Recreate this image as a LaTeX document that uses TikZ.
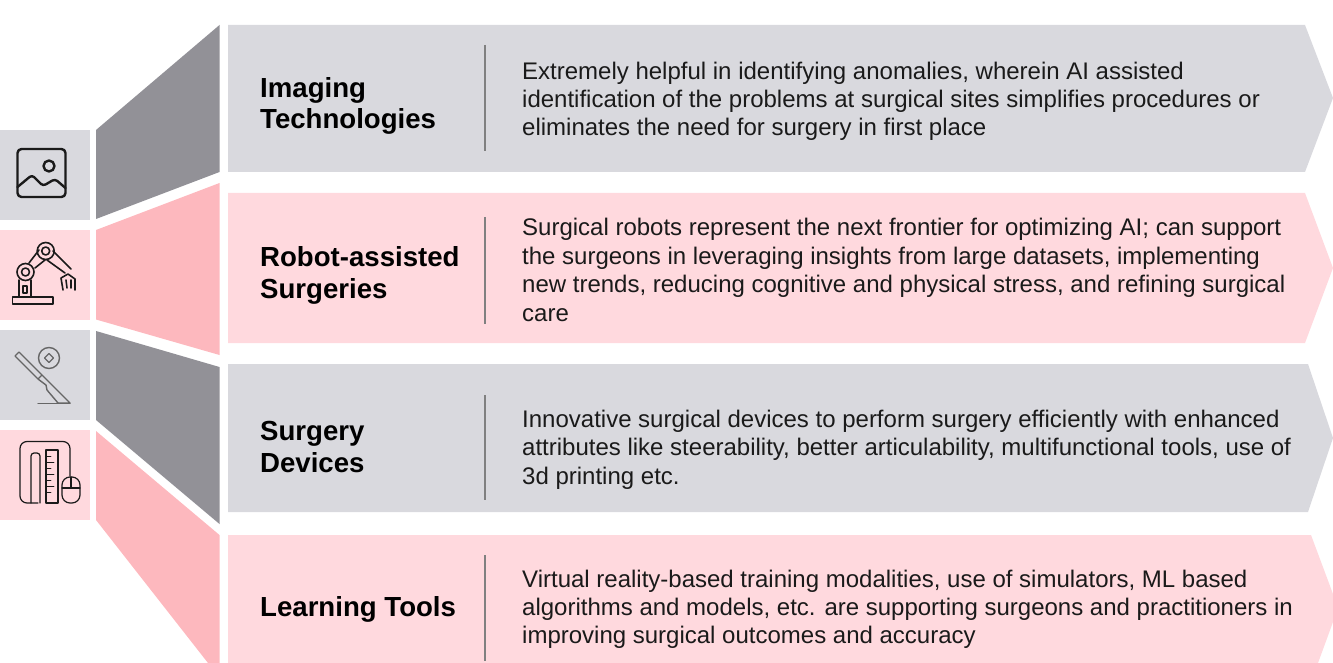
\documentclass[tikz,border=0pt]{standalone}
\usepackage{fontspec}
\setmainfont{Liberation Sans}
\definecolor{panelgray}{HTML}{D9D9DE}
\definecolor{panelpink}{HTML}{FFD9DE}
\definecolor{wedgegray}{HTML}{929197}
\definecolor{wedgepink}{HTML}{FDB8BE}
\definecolor{inktext}{HTML}{1A1A1A}
\tikzset{
  title/.style={anchor=west,inner sep=0pt,align=left,text=black,font=\fontsize{27.6}{31.8}\selectfont\bfseries},
  body/.style={anchor=west,inner sep=0pt,align=left,text=inktext,font=\fontsize{24}{28.4}\selectfont},
  bar/.style={draw=black!50,line width=1.5pt},
  icon/.style={draw=inktext,line width=1.6pt,line join=round,line cap=round,fill=none},
  thin icon/.style={draw=black!60,line width=1.4pt,line join=round,line cap=round,fill=none},
}
\begin{document}
\begin{tikzpicture}[x=1pt,y=-1pt]
  \useasboundingbox (0,0) rectangle (1333,663);
  % panels
  \fill[panelgray] (228,25) -- (1305,25) -- (1333,98) -- (1305,172) -- (228,172) -- cycle;
  \fill[panelpink] (228,193) -- (1305,193) -- (1333,268) -- (1305,343) -- (228,343) -- cycle;
  \fill[panelgray] (228,364) -- (1308,364) -- (1333,438) -- (1308,512) -- (228,512) -- cycle;
  \fill[panelpink] (228,535) -- (1311,535) -- (1333,594) -- (1333,622) -- (1318,663) -- (228,663) -- cycle;
  % wedges
  \fill[wedgegray] (96,130) -- (219.5,25) -- (219.5,172) -- (96,219) -- cycle;
  \fill[wedgepink] (96,230) -- (219.5,183) -- (219.5,355) -- (96,319.5) -- cycle;
  \fill[wedgegray] (96,331) -- (219.5,367) -- (219.5,524) -- (96,420) -- cycle;
  \fill[wedgepink] (96,431) -- (219.5,535) -- (219.5,663) -- (208,663) -- (96,520) -- cycle;
  % icon boxes
  \fill[panelgray] (0,130) rectangle (90,220);
  \fill[panelpink] (0,230) rectangle (90,320);
  \fill[panelgray] (0,330) rectangle (90,420);
  \fill[panelpink] (0,430) rectangle (90,520);
  % picture icon
  \draw[icon,line width=2.4pt,rounded corners=4pt] (17.5,149) rectangle (65.5,197);
  \draw[icon,line width=2.4pt] (49,166) circle (5.5);
  \draw[icon,line width=2.4pt,rounded corners=3pt] (17.5,187) -- (32,175) -- (43,186) -- (55,179) -- (65.5,188);
  % robot icon
  \draw[icon] (12.5,297) rectangle (53,304);
  \draw[icon] (19,280) -- (19,297) (31,280) -- (31,297);
  \draw[icon] (23,286) rectangle (27,293);
  \draw[icon] (25.5,272) circle (8.5) (25.5,272) circle (4);
  \draw[icon] (45.7,251) circle (8.5) (45.7,251) circle (4);
  \draw[icon] (29,263) -- (39,250) (35,268) -- (45,260);
  \draw[icon] (53,251) -- (71,269) (47,260) -- (65,273);
  \draw[icon] (68,274) -- (61,278) -- (63,290) (68,274) -- (75,279) -- (75,290) (66,280) -- (67,288) (71,280) -- (71,288);
  % scalpel icon
  \draw[thin icon] (15,356) -- (19,352) -- (42,375) -- (38,379) -- cycle;
  \draw[thin icon] (42,375) -- (70,403) -- (58,403) -- (47,390) -- (46,385) -- (38,379);
  \draw[thin icon] (38,403.5) -- (70,403.5);
  \draw[thin icon] (49,358) circle (10.5);
  \draw[thin icon] (49,353.5) -- (53.5,358) -- (49,362.5) -- (44.5,358) -- cycle;
  % tools icon
  \draw[icon,line width=1.2pt,rounded corners=7pt] (70,476) -- (70,441.5) -- (20,441.5) -- (20,503) -- (38,503);
  \draw[icon,line width=1.2pt,rounded corners=3pt] (31,503) -- (31,453) -- (40,453) -- (40,503);
  \draw[icon,line width=1.2pt] (46,450) rectangle (58,503);
  \draw[icon,line width=.8pt] (46,456) -- (51,456) (46,462) -- (54,462) (46,468) -- (51,468) (46,474) -- (54,474) (46,480) -- (51,480) (46,486) -- (54,486) (46,492) -- (51,492);
  \draw[icon,line width=1.2pt] (62,488) -- (80,488);
  \draw[icon,line width=1.2pt,rounded corners=8pt] (62,477) rectangle (80,503);
  \draw[icon,line width=1.2pt] (71,477) -- (71,488);
  % dividers
  \coordinate (bar0a) at (485,45);
  \coordinate (bar0b) at (485,151);
  \coordinate (bar1a) at (485,217);
  \coordinate (bar1b) at (485,324);
  \coordinate (bar2a) at (485,395);
  \coordinate (bar2b) at (485,500);
  \coordinate (bar3a) at (485,555);
  \coordinate (bar3b) at (485,661);
  \draw[bar] (bar0a) -- (bar0b);
  \draw[bar] (bar1a) -- (bar1b);
  \draw[bar] (bar2a) -- (bar2b);
  \draw[bar] (bar3a) -- (bar3b);
  % titles
  \node[title] (title0) at (260,105.9) {Imaging\\Technologies};
  \node[title] (title1) at (260,275.5) {Robot-assisted\\Surgeries};
  \node[title] (title2) at (260,447) {Surgery\\Devices};
  \node[title] (title3) at (260,609.6) {Learning Tools};
  % descriptions
  \node[body] (text0) at (522,101.2) {Extremely helpful in identifying anomalies, wherein AI assisted\\identification of the problems at surgical sites simplifies procedures or\\eliminates the need for surgery in first place};
  \node[body] (text1) at (522,270) {Surgical robots represent the next frontier for optimizing AI; can support\\the surgeons in leveraging insights from large datasets, implementing\\new trends, reducing cognitive and physical stress, and refining surgical\\care};
  \node[body] (text2) at (522,449.5) {Innovative surgical devices to perform surgery efficiently with enhanced\\attributes like steerability, better articulability, multifunctional tools, use of\\3d printing etc.};
  \node[body] (text3) at (522,609.2) {Virtual reality-based training modalities, use of simulators, ML based\\algorithms and models, etc. are supporting surgeons and practitioners in\\improving surgical outcomes and accuracy};
\end{tikzpicture}
\end{document}
